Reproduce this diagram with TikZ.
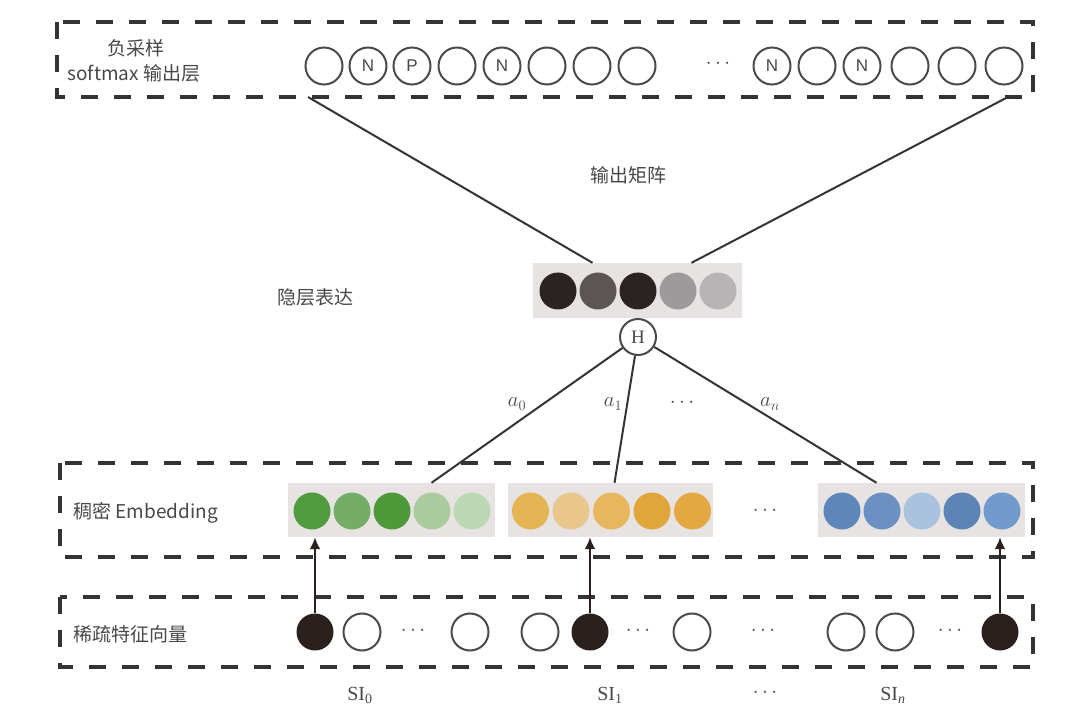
\documentclass[tikz,border=0pt]{standalone}
\usepackage{fontspec}
\setmainfont{Liberation Serif}
\setsansfont{Liberation Sans}
\newfontfamily\cjk{Noto Sans CJK SC}
\usepackage{tikz}
\usetikzlibrary{arrows.meta}

\definecolor{dashgray}{HTML}{343434}
\definecolor{ringgray}{HTML}{4A4A4A}
\definecolor{textgray}{HTML}{484848}
\definecolor{barbg}{HTML}{E7E3E2}
\definecolor{ink}{HTML}{2A211F}
% hidden layer
\definecolor{hA}{HTML}{2B2321}\definecolor{hB}{HTML}{5B5654}
\definecolor{hC}{HTML}{2B2321}\definecolor{hD}{HTML}{9C9A9A}
\definecolor{hE}{HTML}{B6B4B4}
% green
\definecolor{gA}{HTML}{4F9B3D}\definecolor{gB}{HTML}{74AE66}
\definecolor{gC}{HTML}{4E9A3B}\definecolor{gD}{HTML}{A9CB9D}
\definecolor{gE}{HTML}{BCD8B2}
% yellow
\definecolor{yA}{HTML}{E5B453}\definecolor{yB}{HTML}{E9C78C}
\definecolor{yC}{HTML}{E6B75C}\definecolor{yD}{HTML}{E1A63B}
\definecolor{yE}{HTML}{E3A841}
% blue
\definecolor{bA}{HTML}{5D87B9}\definecolor{bB}{HTML}{6A91C1}
\definecolor{bC}{HTML}{A9C2DD}\definecolor{bD}{HTML}{5C85B6}
\definecolor{bE}{HTML}{709BCC}

\begin{document}
\begin{tikzpicture}[x=1pt,y=-1pt,
  box/.style={draw=dashgray, line width=3.5pt, dash pattern=on 17pt off 16pt},
  unit/.style={circle, draw=ringgray, line width=2pt, fill=white, minimum size=37pt, inner sep=0pt,
    text=textgray, font=\sffamily\fontsize{17}{17}\selectfont},
  ball/.style={circle, minimum size=37pt, inner sep=0pt},
  bar/.style={fill=barbg, inner sep=0pt},
  lbl/.style={text=textgray, font=\cjk\fontsize{19}{22}\selectfont},
  serif/.style={text=textgray, font=\fontsize{20}{22}\selectfont},
  dots/.style={text=textgray, font=\fontsize{22}{22}\selectfont},
  link/.style={draw=dashgray, line width=2pt},
  up/.style={draw=ink, line width=2.5pt, -{Latex[length=12pt,width=11pt]}}]
\useasboundingbox (0,0) rectangle (1079,719);

% dashed layers
\draw[box] (57,22) rectangle (1033,97);
\draw[box] (60,463) rectangle (1033,557);
\draw[box] (60,597) rectangle (1033,667);

% layer labels
\node[lbl] (neg) at (136,48) {负采样};
\node[lbl, anchor=west] (soft) at (64,73) {softmax 输出层};
\node[lbl] (mat) at (628,175) {输出矩阵};
\node[lbl] (hid) at (315,297) {隐层表达};
\node[lbl, anchor=west] (emb) at (70,513) {稠密 Embedding};
\node[lbl, anchor=west] (spa) at (70,634) {稀疏特征向量};

% softmax output
\node[unit] (o1) at (324,66) {};
\node[unit] (o2) at (368,66) {N};
\node[unit] (o3) at (412,66) {P};
\node[unit] (o4) at (457,66) {};
\node[unit] (o5) at (502,66) {N};
\node[unit] (o6) at (547,66) {};
\node[unit] (o7) at (592,66) {};
\node[unit] (o8) at (637,66) {};
\node[dots] (odots) at (718,64) {$\cdots$};
\node[unit] (o9) at (772,66) {N};
\node[unit] (o10) at (817,66) {};
\node[unit] (o11) at (862,66) {N};
\node[unit] (o12) at (910,66) {};
\node[unit] (o13) at (957,66) {};
\node[unit] (o14) at (1004,66) {};
\coordinate (ol) at (308,97);
\coordinate (or) at (1008,97);

% hidden layer
\node[bar, minimum width=209pt, minimum height=55pt] (hbar) at (637.5,290.5) {};
\foreach \c [count=\i] in {hA,hB,hC,hD,hE}
  \node[ball, fill=\c] (h\i) at (518+40*\i,291) {};
\node[unit, minimum size=36pt, font=\fontsize{19}{19}\selectfont] (H) at (638,337) {H};
\draw[link] (ol) -- ([xshift=-45pt]hbar.north);
\draw[link] (or) -- ([xshift=54pt]hbar.north);

% embeddings
\node[bar, minimum width=207pt, minimum height=54pt] (gbar) at (391.5,510) {};
\foreach \c [count=\i] in {gA,gB,gC,gD,gE}
  \node[ball, fill=\c] (g\i) at (272+40*\i,511) {};
\node[bar, minimum width=205pt, minimum height=54pt] (ybar) at (610.5,510) {};
\foreach \c [count=\i] in {yA,yB,yC,yD,yE}
  \node[ball, fill=\c] (y\i) at (490+40.5*\i,511) {};
\node[dots] (edots) at (765,511) {$\cdots$};
\node[bar, minimum width=207pt, minimum height=54pt] (bbar) at (921.5,510) {};
\foreach \c [count=\i] in {bA,bB,bC,bD,bE}
  \node[ball, fill=\c] (b\i) at (802+40*\i,511) {};

\draw[link] (H) -- ([xshift=40pt]gbar.north);
\draw[link] (H) -- ([xshift=4pt]ybar.north);
\draw[link] (H) -- ([xshift=-45pt]bbar.north);
\node[serif] (a0) at (517,404) {$a_0$};
\node[serif] (a1) at (613,404) {$a_1$};
\node[dots] (adots) at (682,403) {$\cdots$};
\node[serif] (an) at (770,404) {$a_n$};

% sparse features
\node[ball, fill=ink] (s1) at (315,632) {};
\node[unit] (s2) at (362,632) {};
\node[dots] (sd1) at (413,631) {$\cdots$};
\node[unit] (s3) at (470,632) {};
\node[unit] (s4) at (540,632) {};
\node[ball, fill=ink] (s5) at (590,632) {};
\node[dots] (sd2) at (638,631) {$\cdots$};
\node[unit] (s6) at (692,632) {};
\node[dots] (sd3) at (763,631) {$\cdots$};
\node[unit] (s7) at (846,632) {};
\node[unit] (s8) at (895,632) {};
\node[dots] (sd4) at (950,631) {$\cdots$};
\node[ball, fill=ink] (s9) at (1000,632) {};

\draw[up] (s1) -- (s1 |- gbar.south);
\draw[up] (s5) -- (s5 |- ybar.south);
\draw[up] (s9) -- (s9 |- bbar.south);

\node[serif] (si0) at (360,695) {SI\textsubscript{0}};
\node[serif] (si1) at (610,695) {SI\textsubscript{1}};
\node[dots] (sidots) at (765,693) {$\cdots$};
\node[serif] (sin) at (893,695) {SI\textsubscript{\textit{n}}};
\end{tikzpicture}
\end{document}
